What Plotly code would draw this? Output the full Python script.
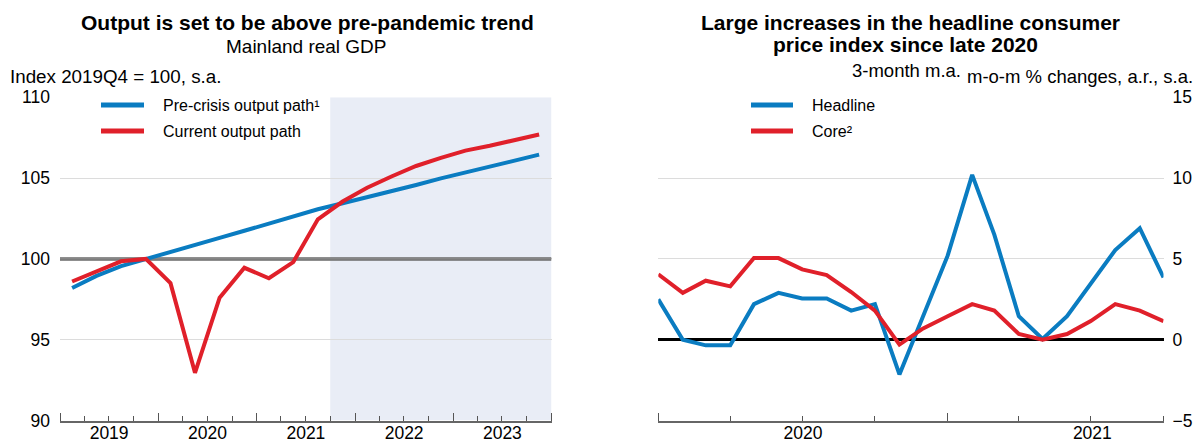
import pandas as pd
import plotly.graph_objects as go

# left panel: quarterly, 2019Q1-2023Q4
quarters = pd.period_range("2019Q1", "2023Q4", freq="Q")
pre_crisis = [98.2, 98.95, 99.55, 100.0, 100.47, 100.88, 101.3, 101.74, 102.2, 102.64,
              103.07, 103.44, 103.8, 104.2, 104.57, 104.98, 105.35, 105.7, 106.08, 106.45]
current = [98.6, 99.25, 99.85, 100.0, 98.5, 92.95, 97.6, 99.45, 98.8, 99.8,
           102.45, 103.55, 104.4, 105.1, 105.75, 106.25, 106.7, 107.0, 107.35, 107.7]
forecast_start = "2021-10-01"

# right panel: monthly, Jan 2020 - Oct 2021
months = pd.period_range("2020-01", "2021-10", freq="M")
headline = [2.5, 0.0, -0.35, -0.35, 2.2, 2.9, 2.55, 2.55, 1.8, 2.2, -2.15,
            1.5, 5.2, 10.2, 6.5, 1.45, 0.05, 1.45, 3.5, 5.55, 6.9, 3.85]
core = [4.05, 2.9, 3.65, 3.3, 5.05, 5.05, 4.35, 4.0, 2.95, 1.8, -0.3,
        0.7, 1.45, 2.2, 1.8, 0.35, 0.0, 0.35, 1.15, 2.2, 1.8, 1.15]

BLUE = "#0a7cc1"
RED = "#e0202a"
FONT = "Liberation Sans, Arial, sans-serif"
W, H = 1200, 442

def px(x, y):
    return x / W, 1 - y / H

q_mid = [p.start_time + (p.end_time - p.start_time) / 2 for p in quarters]
m_start = [p.start_time for p in months]

fig = go.Figure()
fig.add_trace(go.Scatter(x=q_mid, y=pre_crisis, mode="lines", line=dict(color=BLUE, width=4),
                         xaxis="x", yaxis="y", showlegend=False))
fig.add_trace(go.Scatter(x=q_mid, y=current, mode="lines", line=dict(color=RED, width=4),
                         xaxis="x", yaxis="y", showlegend=False))
fig.add_trace(go.Scatter(x=m_start, y=headline, mode="lines", line=dict(color=BLUE, width=4),
                         xaxis="x2", yaxis="y2", showlegend=False))
fig.add_trace(go.Scatter(x=m_start, y=core, mode="lines", line=dict(color=RED, width=4),
                         xaxis="x2", yaxis="y2", showlegend=False))

ydom = [1 - 420.5 / H, 1 - 97.3 / H]
xcommon = dict(type="date", dtick="M12", ticklabelmode="period", ticks="inside", ticklen=8,
               tickcolor="#555", showline=True, linecolor="#666", linewidth=1.5,
               showgrid=False, zeroline=False, tickfont=dict(size=17.5, color="black"),
               ticklabelstandoff=-4,
               minor=dict(dtick="M3", ticks="inside", ticklen=5, tickcolor="#555", showgrid=False))
ycommon = dict(dtick=5, showgrid=True, gridcolor="#dcdcdc", gridwidth=1, showline=False,
               ticks="", tickfont=dict(size=17.5, color="black"))

fig.update_layout(
    width=W, height=H, margin=dict(l=0, r=0, t=0, b=0, autoexpand=False),
    paper_bgcolor="white", plot_bgcolor="white",
    font=dict(family=FONT, color="black"),
    xaxis=dict(domain=[60 / W, 551.5 / W], range=["2019-01-01", "2024-01-01"],
               tick0="2019-01-01", anchor="y", **xcommon),
    yaxis=dict(domain=ydom, range=[90, 110], anchor="x", side="left", zeroline=False,
               ticklabelstandoff=9, **ycommon),
    xaxis2=dict(domain=[658.3 / W, 1163.5 / W], range=["2020-01-01", "2021-10-01"],
                tick0="2020-01-01", anchor="y2", **xcommon),
    yaxis2=dict(domain=ydom, range=[-5, 15], anchor="x2", side="right",
                zeroline=True, zerolinecolor="black", zerolinewidth=2.5,
                ticklabelstandoff=8, **ycommon),
)

# forecast shading and reference line at 100
fig.add_shape(type="rect", xref="x", yref="y", x0=forecast_start, x1="2024-01-01", y0=90, y1=110,
              fillcolor="#e9edf6", line_width=0, layer="below")
fig.add_shape(type="line", xref="x", yref="y", x0="2019-01-01", x1="2024-01-01", y0=100, y1=100,
              line=dict(color="#6a6a6a", width=3.5), layer="between")
fig.add_shape(type="line", xref="x", yref="y", x0="2019-01-01", x1="2024-01-01", y0=100, y1=100,
              line=dict(color="#9a9a9a", width=1), layer="between")

# legends drawn by hand
legend_items = [
    (101, 144, 105, BLUE, "Pre-crisis output path¹"),
    (101, 144, 131, RED, "Current output path"),
    (751, 793, 105, BLUE, "Headline"),
    (751, 793, 131, RED, "Core²"),
]
for x0, x1, y, col, label in legend_items:
    a0, b = px(x0, y)
    a1, _ = px(x1, y)
    fig.add_shape(type="line", xref="paper", yref="paper", x0=a0, x1=a1, y0=b, y1=b,
                  line=dict(color=col, width=5))
    fig.add_annotation(x=(x1 + 17) / W, y=b, xref="paper", yref="paper", text=label,
                       showarrow=False, xanchor="left", yanchor="middle", font=dict(size=16))

texts = [
    (307, 22, "<b>Output is set to be above pre-pandemic trend</b>", 21, "center"),
    (306, 47, "Mainland real GDP", 19, "center"),
    (8, 76, "Index 2019Q4 = 100, s.a.", 18.8, "left"),
    (910, 22, "<b>Large increases in the headline consumer</b>", 21, "center"),
    (905, 45, "<b>price index since late 2020</b>", 21, "center"),
    (906, 70, "3-month m.a.", 18.5, "center"),
    (1195, 76, "m-o-m % changes, a.r., s.a.", 18.5, "right"),
]
for x, y, t, s, anc in texts:
    a, b = px(x, y)
    fig.add_annotation(x=a, y=b, xref="paper", yref="paper", text=t, showarrow=False,
                       xanchor=anc, yanchor="middle", font=dict(size=s, color="black"))

fig.write_html("out.html", config={"displayModeBar": False},
               post_script="document.body.style.margin='0';")
